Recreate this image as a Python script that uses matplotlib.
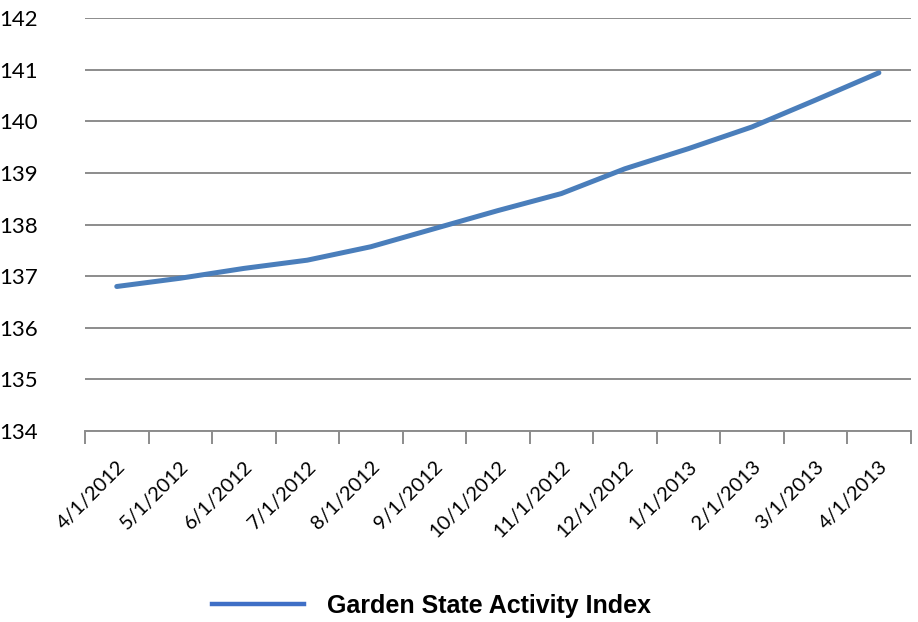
import matplotlib.pyplot as plt
import numpy as np
from matplotlib.lines import Line2D

dates = ['4/1/2012', '5/1/2012', '6/1/2012', '7/1/2012', '8/1/2012', '9/1/2012',
         '10/1/2012', '11/1/2012', '12/1/2012', '1/1/2013', '2/1/2013', '3/1/2013', '4/1/2013']
index_values = [136.80, 136.96, 137.15, 137.31, 137.57, 137.92,
                138.27, 138.60, 139.08, 139.47, 139.89, 140.41, 140.94]
y_ticks = [134, 135, 136, 137, 138, 139, 140, 141, 142]
series_name = 'Garden State Activity Index'

line_color = '#4A7EBB'
grid_color = '#8C8C8C'

fig = plt.figure(figsize=(9.18, 6.22), dpi=100)
ax = fig.add_axes([0.0926, 0.307, 0.8994, 0.664])

x = np.arange(len(dates))
ax.plot(x, index_values, color=line_color, lw=3.6, solid_capstyle='round',
        solid_joinstyle='round', zorder=3)

ax.set_xlim(-0.5, len(dates) - 0.5)
ax.set_ylim(y_ticks[0], y_ticks[-1])
ax.set_yticks(y_ticks)
ax.set_yticklabels([str(v) for v in y_ticks], fontsize=16, family='Lato')
ax.yaxis.grid(True, color=grid_color, lw=1.4)
ax.set_axisbelow(True)
ax.tick_params(axis='y', length=0, pad=34)

ax.set_xticks(x)
ax.set_xticklabels(dates, rotation=45, ha='right', rotation_mode='anchor',
                   fontsize=14.5, family='Lato')
ax.set_xticks(np.arange(-0.5, len(dates)), minor=True)
ax.tick_params(axis='x', which='major', length=0, pad=19)
ax.tick_params(axis='x', which='minor', length=9, width=1.4, color=grid_color,
               direction='out')

for side in ['top', 'right', 'left']:
    ax.spines[side].set_visible(False)
ax.spines['bottom'].set_color(grid_color)
ax.spines['bottom'].set_linewidth(1.4)

handle = Line2D([], [], color='#3F6FC6', lw=3.2)
fig.legend([handle], [series_name], loc='center', bbox_to_anchor=(0.47, 0.026),
           frameon=False, handlelength=3.7, handletextpad=0.9,
           prop={'family': 'Liberation Sans', 'weight': 'bold', 'size': 18})

fig.savefig('out.png', dpi=100)
